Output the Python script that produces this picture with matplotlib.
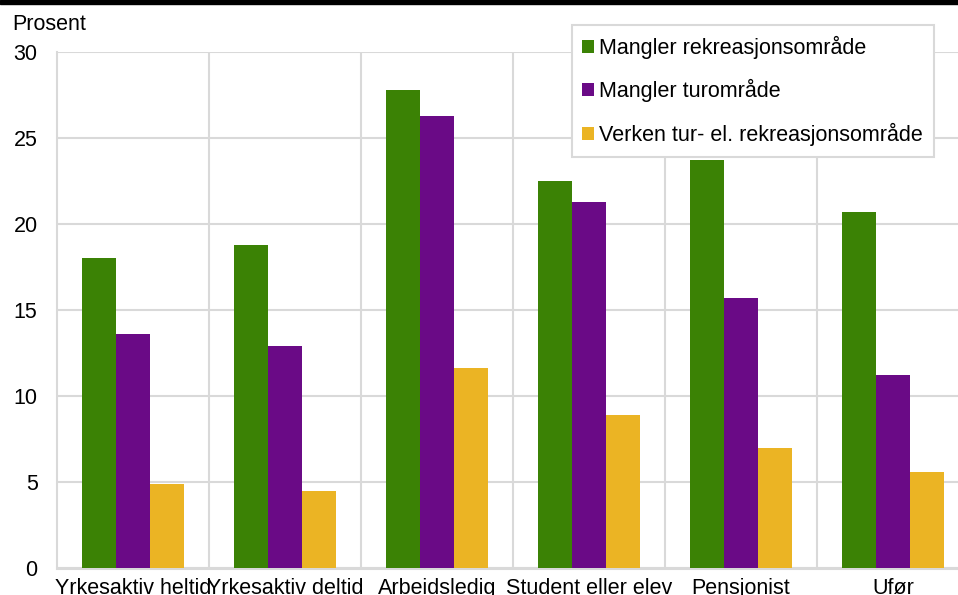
import numpy as np
import matplotlib
matplotlib.use("Agg")
import matplotlib.pyplot as plt
from matplotlib.patches import Rectangle, Patch

plt.rcParams['font.family'] = ['Liberation Sans', 'DejaVu Sans']

categories = ['Yrkesaktiv heltid', 'Yrkesaktiv deltid', 'Arbeidsledig',
              'Student eller elev', 'Pensjonist', 'Ufør']
series_names = ['Mangler rekreasjonsområde', 'Mangler turområde',
                'Verken tur- el. rekreasjonsområde']
rekreasjon = [18.0, 18.8, 27.8, 22.5, 23.7, 20.7]
turomrade = [13.6, 12.9, 26.3, 21.3, 15.7, 11.2]
verken = [4.9, 4.5, 11.6, 8.9, 7.0, 5.6]
colors = ['#3b8205', '#6a0a86', '#ebb424']
grid_col = '#d9d9d9'
fs = 15.5

W, H = 958, 595
fig = plt.figure(figsize=(W / 100, H / 100), dpi=100)
# axes runs past right edge like in the original
ax = fig.add_axes([57 / W, 27 / H, 912 / W, 516 / H])

x = np.arange(len(categories))
bw = 0.224
for i, vals in enumerate([rekreasjon, turomrade, verken]):
    ax.bar(x + (i - 1) * bw, vals, bw, color=colors[i], zorder=3,
           label=series_names[i])

ax.set_xlim(-0.5, len(categories) - 0.5)
ax.set_ylim(0, 30)
ax.set_yticks(np.arange(0, 31, 5))
ax.set_xticks(x)
ax.set_xticklabels(categories)
ax.set_xticks(np.arange(0.5, len(categories)), minor=True)
ax.tick_params(axis='both', which='both', length=0, labelsize=fs)
ax.tick_params(axis='y', pad=14)
ax.tick_params(axis='x', pad=7)
ax.grid(axis='y', which='major', color=grid_col, lw=1.5, zorder=0)
ax.grid(axis='x', which='minor', color=grid_col, lw=1.5, zorder=0)
ax.grid(axis='x', which='major', visible=False)
for s in ['top', 'right']:
    ax.spines[s].set_visible(False)
ax.spines['left'].set_color(grid_col)
ax.spines['left'].set_linewidth(1.5)
ax.spines['bottom'].set_color(grid_col)
ax.spines['bottom'].set_linewidth(2.2)

fig.text(12 / W, 1 - 25 / H, 'Prosent', fontsize=fs, va='center', ha='left')

handles = [Patch(facecolor=c, edgecolor='none') for c in colors]
leg = ax.legend(handles, series_names, loc='upper right',
                bbox_to_anchor=(934 / W, 1 - 25 / H), bbox_transform=fig.transFigure,
                fontsize=fs, handlelength=0.55, handleheight=0.55,
                handletextpad=0.25, labelspacing=0.95, borderpad=0.5,
                borderaxespad=0, fancybox=False, framealpha=1)
leg.get_frame().set_edgecolor(grid_col)
leg.get_frame().set_linewidth(1.5)
leg.set_zorder(5)

# black bar along the top edge
fig.patches.append(Rectangle((0, 1 - 4 / H), 1, 4 / H, transform=fig.transFigure,
                             color='black', figure=fig))

fig.savefig('out.png', dpi=100)
